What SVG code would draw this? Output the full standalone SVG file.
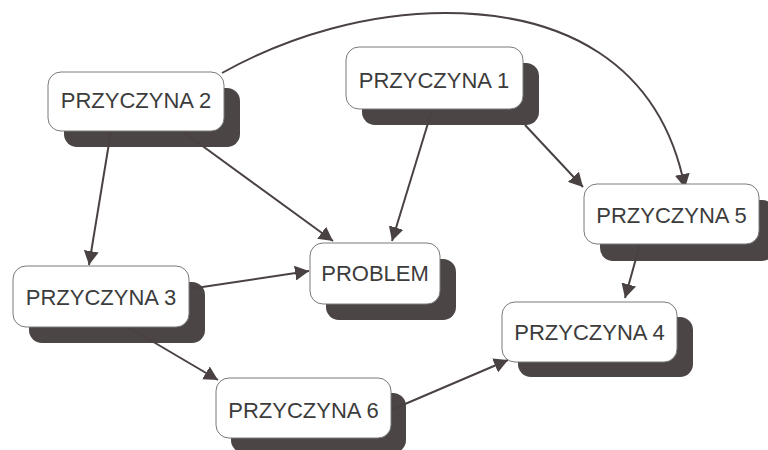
<svg xmlns="http://www.w3.org/2000/svg" width="768" height="450" viewBox="0 0 768 450">
  <style>
    .shadow { fill: #4b4545; }
    .box { fill: #ffffff; stroke: #7a7a7a; stroke-width: 1; }
    .label { font-family: "Liberation Sans", Arial, sans-serif; font-size: 22px; fill: #3c3c3c; text-anchor: middle; }
    .edge { fill: none; stroke: #4a4242; stroke-width: 2; marker-end: url(#arrow); }
  </style>
  <defs>
    <marker id="arrow" markerUnits="userSpaceOnUse" markerWidth="15" markerHeight="15" refX="14" refY="7.5" orient="auto">
      <path d="M0,0 L14,7.5 L0,15 z" fill="#4a4242"/>
    </marker>
  </defs>
  <rect width="768" height="450" fill="#ffffff"/>

  <!-- drop shadows -->
  <g id="shadows">
    <rect class="shadow" x="64" y="88" width="176" height="59" rx="13"/>
    <rect class="shadow" x="362" y="63" width="177" height="62" rx="13"/>
    <rect class="shadow" x="326" y="259" width="130" height="61" rx="13"/>
    <rect class="shadow" x="600" y="200" width="175" height="61" rx="13"/>
    <rect class="shadow" x="29" y="282" width="176" height="61" rx="13"/>
    <rect class="shadow" x="518" y="317" width="175" height="60" rx="13"/>
    <rect class="shadow" x="231" y="393" width="175" height="60" rx="13"/>
  </g>

  <!-- connectors -->
  <g id="connectors">
    <path class="edge" d="M222,73 C290,35 370,13 445,13 C560,13 660,60 685,188"/>
    <path class="edge" d="M525,125 L583,187"/>
    <path class="edge" d="M432,110 L392,241"/>
    <path class="edge" d="M182,131 L333,241"/>
    <path class="edge" d="M111,131 L89,265"/>
    <path class="edge" d="M189,289 L309,271"/>
    <path class="edge" d="M128,327 L218,380"/>
    <path class="edge" d="M391,410 L508,360"/>
    <path class="edge" d="M640,244 L625,298"/>
  </g>

  <g id="przyczyna2">
    <rect class="box" x="48" y="72" width="176" height="59" rx="13"/>
    <text class="label" x="136" y="108">PRZYCZYNA 2</text>
  </g>
  <g id="przyczyna1">
    <rect class="box" x="346" y="47" width="177" height="62" rx="13"/>
    <text class="label" x="434" y="88">PRZYCZYNA 1</text>
  </g>
  <g id="problem">
    <rect class="box" x="310" y="243" width="130" height="61" rx="13"/>
    <text class="label" x="375" y="281">PROBLEM</text>
  </g>
  <g id="przyczyna5">
    <rect class="box" x="584" y="184" width="175" height="60" rx="13"/>
    <text class="label" x="671.5" y="223">PRZYCZYNA 5</text>
  </g>
  <g id="przyczyna3">
    <rect class="box" x="13" y="266" width="176" height="61" rx="13"/>
    <text class="label" x="101" y="305">PRZYCZYNA 3</text>
  </g>
  <g id="przyczyna4">
    <rect class="box" x="502" y="302" width="175" height="60" rx="13"/>
    <text class="label" x="589.5" y="340">PRZYCZYNA 4</text>
  </g>
  <g id="przyczyna6">
    <rect class="box" x="216" y="378" width="175" height="60" rx="13"/>
    <text class="label" x="303.5" y="418">PRZYCZYNA 6</text>
  </g>
</svg>
